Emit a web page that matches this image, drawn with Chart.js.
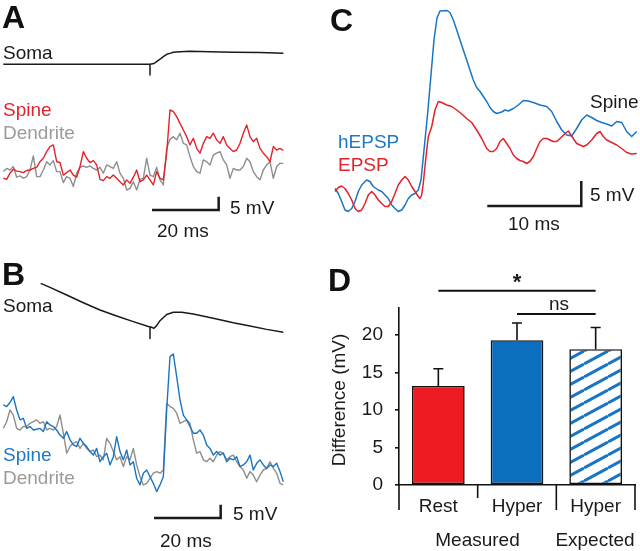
<!DOCTYPE html>
<html><head><meta charset="utf-8">
<script src="https://cdn.jsdelivr.net/npm/chart.js@4.4.1/dist/chart.umd.min.js"></script>
<style>
html,body{margin:0;padding:0;background:#fff;}
#page{position:relative;width:640px;height:551px;overflow:hidden;background:#fff;font-family:"Liberation Sans",Arial,Helvetica,sans-serif;}
canvas{position:absolute;}
.t{position:absolute;font-size:19px;line-height:19px;white-space:nowrap;color:#1a1a1a;}
.L{font-size:32px;line-height:32px;font-weight:bold;color:#111;}
.c{transform:translateX(-50%);}
</style></head>
<body><div id="page">
<canvas id="traces" width="640" height="551" style="left:0;top:0;width:640px;height:551px"></canvas>
<canvas id="bars" width="320" height="291" style="left:320px;top:260px;width:320px;height:291px"></canvas>

<div class="t L" style="left:2px;top:1px">A</div>
<div class="t" style="left:3px;top:42.5px">Soma</div>
<div class="t" style="left:3px;top:99.5px;color:#e3232b">Spine</div>
<div class="t" style="left:3px;top:122.5px;color:#9b9b9b">Dendrite</div>
<div class="t" style="left:230px;top:197.5px">5 mV</div>
<div class="t" style="left:157px;top:220.5px">20 ms</div>

<div class="t L" style="left:2px;top:258px">B</div>
<div class="t" style="left:3px;top:295.5px">Soma</div>
<div class="t" style="left:3px;top:444.5px;color:#1f77c6">Spine</div>
<div class="t" style="left:3px;top:467.5px;color:#9b9b9b">Dendrite</div>
<div class="t" style="left:233px;top:503.5px">5 mV</div>
<div class="t" style="left:160px;top:530.5px">20 ms</div>

<div class="t L" style="left:330px;top:4px">C</div>
<div class="t" style="left:590px;top:91.5px">Spine</div>
<div class="t" style="left:338px;top:131.5px;color:#1f77c6">hEPSP</div>
<div class="t" style="left:338px;top:154.5px;color:#e3232b">EPSP</div>
<div class="t" style="left:590px;top:184.5px">5 mV</div>
<div class="t" style="left:508px;top:213.5px">10 ms</div>

<div class="t L" style="left:328px;top:264px">D</div>
<div class="t c" style="left:517px;top:271px;font-size:22px;line-height:22px;font-weight:bold">*</div>
<div class="t c" style="left:559px;top:294px">ns</div>
<div class="t c" style="left:477.5px;top:529.5px">Measured</div>
<div class="t c" style="left:595px;top:529.5px">Expected</div>
<div class="t" style="left:338px;top:400px;transform:translate(-50%,-50%) rotate(-90deg)">Difference (mV)</div>
</div>
<script>
// ---------------- DATA ----------------
// Panel A / B: samples every 1 ms (mV)
const DT_MS = 1;
const A_SPINE = [4.4,4.0,6.3,7.8,7.1,6.9,6.5,7.3,7.5,8.1,
 8.5,10.6,11.9,14.4,16.3,16.9,10.6,10.3,5.6,6.5,
 7.5,5.6,4.8,8.8,14.4,11.9,10.3,11.0,9.4,4.0,
 3.5,5.0,4.4,5.6,4.4,3.1,1.9,3.8,2.5,4.8,
 7.5,3.1,3.8,5.6,3.8,1.9,6.9,4.4,3.8,13.8,
 30.0,29.4,27.5,25.0,22.5,20.0,16.9,19.4,15.6,13.8,
 17.5,20.0,19.4,21.3,18.8,17.5,20.0,16.9,15.6,14.4,
 15.0,17.5,21.3,24.4,20.0,18.1,19.4,15.6,13.8,12.5,
 10.6,16.3,15.0,15.6,14.8];
const A_DEND = [6.9,8.1,7.5,8.8,4.8,5.3,4.4,5.0,7.5,12.8,
 5.0,5.0,7.5,10.6,9.4,11.0,6.9,6.9,2.8,5.0,
 4.4,1.3,6.3,8.5,9.0,8.5,9.0,8.1,7.5,8.5,
 6.3,9.4,8.8,8.1,10.6,6.3,4.4,0.0,0.6,3.1,
 0.0,4.0,4.4,11.9,5.6,5.0,8.5,3.8,1.9,15.6,
 19.0,20.0,18.8,21.3,17.5,16.9,12.5,8.8,6.9,6.3,
 11.3,10.6,9.4,13.1,13.8,14.4,11.3,9.4,4.4,8.1,
 7.5,7.5,8.8,11.9,10.6,6.9,5.0,3.8,7.5,9.4,
 10.6,4.4,8.8,10.0,10.0];
const A_SOMA_T = [0,44,44,44,45.2,46,47,48,49,50,51,53,56,62,69,77,84];
const A_SOMA_V = [0,0,-4,0,0.3,1.0,1.9,2.9,3.75,4.1,4.5,4.75,4.9,4.75,4.5,4.4,4.1];

const B_SPINE = [31.9,31.3,32.8,35.0,30.0,26.3,26.9,23.1,23.8,22.5,
 22.8,23.1,21.9,25.6,24.4,23.8,22.5,20.6,19.4,21.9,
 18.8,16.9,16.3,19.4,17.5,16.3,14.4,13.1,15.6,10.6,
 12.5,13.8,9.4,12.5,20.0,14.4,11.3,15.0,9.4,10.6,
 4.4,1.9,6.3,7.5,5.0,2.5,-0.6,1.9,5.0,30.0,
 50.0,51.0,42.5,33.8,28.1,26.3,23.8,21.3,21.3,22.5,
 20.6,16.9,15.6,13.1,14.4,13.1,13.8,10.6,11.9,11.3,
 12.5,8.8,9.4,10.6,13.1,7.5,10.0,11.3,9.4,8.1,
 9.4,8.8,10.0,6.9,3.1];
const B_DEND = [23.1,25.6,30.0,28.1,23.1,22.5,23.8,23.8,25.0,25.6,
 26.3,25.0,25.6,22.5,23.1,22.5,23.8,28.1,21.3,13.8,
 16.3,17.5,18.1,15.6,17.5,15.6,14.4,15.0,12.5,13.1,
 11.3,19.4,17.5,14.4,11.3,12.5,8.8,12.5,11.3,15.6,
 9.4,5.0,1.9,2.5,4.4,6.3,6.9,6.3,7.5,32.5,
 31.3,30.6,28.8,25.0,25.6,26.3,25.0,18.8,13.8,14.4,
 11.3,10.6,11.9,10.6,13.1,14.4,13.8,11.3,12.5,13.1,
 10.6,8.8,7.5,4.4,6.9,5.6,3.1,5.6,7.5,8.1,
 10.6,8.1,6.3,2.5,1.9];
const B_SOMA_T = [11.2,14,19,24,29,34,39,43.5,44,44,44,45.2,46,47,49,51,53.5,57,64,69,74,79,84];
const B_SOMA_V = [16.25,14.75,11.9,9.0,6.25,4.0,1.9,0.1,0,-4.4,0,-0.6,0.4,2.25,4.6,5.4,5.4,4.75,2.9,1.5,0.25,-1.0,-2.1];

// Panel C (ms, mV)
const C_HEPSP_T = [0,0.35,0.71,1.06,1.41,1.78,2.13,2.48,2.84,3.37,3.72,4.07,4.61,4.97,5.32,5.67,6.03,6.38,6.73,7.10,
 7.45,7.80,8.16,8.51,8.86,9.15,9.47,9.89,10.21,10.53,10.85,11.17,11.91,12.23,12.59,12.95,13.30,13.65,14.01,
 14.36,14.71,15.07,15.43,15.78,16.14,16.49,16.84,17.20,17.73,18.09,18.44,18.97,19.50,20.03,20.56,21.10,21.81,22.52,23.05,
 23.59,24.12,24.65,25.18,25.71,26.24,26.78,27.31,27.84,28.37,28.90,29.44,29.97,30.50,31.03,31.56,32.10];
const C_HEPSP_V = [0.3,-0.7,-2.3,-4.0,-4.3,-3.7,-2.3,-0.3,1.0,2.0,1.7,0.7,0.0,-0.3,-1.0,-1.7,-3.0,-3.7,-4.3,-4.0,
 -3.0,-1.7,-1.0,-0.7,0.0,2.0,8.0,16.0,23.0,30.0,34.4,35.8,35.9,35.5,34.0,32.0,30.0,28.0,26.0,
 24.0,22.0,20.5,19.7,18.7,17.7,16.5,15.7,15.3,15.6,16.0,15.8,16.3,17.0,17.9,17.8,17.5,17.0,16.7,15.7,
 13.7,12.0,11.0,10.8,12.3,14.0,15.0,14.5,13.9,13.5,13.2,12.8,13.7,13.5,11.7,10.7,11.7];
const C_EPSP_T = [0,0.35,0.71,1.06,1.41,1.78,2.13,2.48,2.84,3.19,3.54,3.90,4.26,4.61,4.97,5.32,5.67,6.03,6.38,6.73,
 7.10,7.45,7.80,8.16,8.51,8.86,9.04,9.22,9.39,9.57,9.76,9.93,10.29,10.64,10.99,11.35,11.88,12.41,12.95,13.48,
 14.01,14.54,15.07,15.61,16.14,16.49,16.84,17.20,17.55,17.90,18.27,18.62,18.97,19.33,19.68,20.03,20.39,20.74,21.10,21.46,
 21.81,22.16,22.52,22.87,23.22,23.59,23.94,24.47,24.82,25.35,25.71,26.06,26.41,26.78,27.31,27.84,28.19,28.54,28.90,29.44,
 29.97,30.50,31.03,31.56,32.10];
const C_EPSP_V = [-0.3,0.5,0.8,0.3,-0.7,-2.0,-3.7,-4.3,-4.0,-2.7,-1.0,-0.3,-1.0,-2.0,-2.7,-3.3,-3.3,-2.3,-0.7,1.0,
 2.0,2.7,2.0,0.7,-0.3,-1.3,-1.7,-1.0,1.3,4.7,8.0,10.7,12.7,16.0,17.7,17.5,17.0,16.7,16.0,15.2,
 14.3,13.5,12.0,10.3,8.3,7.7,7.7,8.3,9.7,10.3,9.3,8.3,7.0,6.3,5.9,5.7,5.3,5.7,6.7,8.3,
 9.7,10.3,10.3,10.0,9.7,9.7,10.3,11.3,11.8,10.3,9.3,9.0,8.7,9.0,10.0,11.3,11.7,10.7,10.0,9.5,
 9.0,8.3,7.5,7.2,7.3];

// Scale bars (ms, mV)
const SCALE_A = {t0:44.6, v0:-7.5, dt:20, dv:5};
const SCALE_B = {t0:45.2, v0:-10.5, dt:20, dv:5};
const SCALE_C = {t0:16.2, v0:-3.2, dt:10, dv:5};

// Panel D
const CATEGORIES = ['Rest','Hyper','Hyper'];
const GROUPS = [{label:'Measured',from:0,to:1},{label:'Expected',from:2,to:2}];
const MEANS = [13.2, 19.3, 18.1];
const SEMS = [2.3, 2.3, 2.9];
const Y_TICKS = [0,5,10,15,20];
const Y_MAX = 23.6;
const SIG = [{a:0,b:2,level:25.9},{a:1,b:2,level:22.8}];

// ---------------- STYLE / LAYOUT ----------------
const RED='#e4222a', BLUE='#1a74c4', GRAY='#8e8e8e', BLACK='#1a1a1a';
const W=640, H=551;
function xr(p0,k){return {min:-p0/k, max:(W-p0)/k};}
function yr(p0,k){return {min:(p0-H)/k, max:p0/k};}
const AXES = {
  xA:{axis:'x',...xr(10/3,10/3)}, xC:{axis:'x',...xr(335,9.4)},
  yAs:{axis:'y',...yr(64.3,8/3)}, yA:{axis:'y',...yr(190,8/3)},
  yBs:{axis:'y',...yr(326.7,8/3)}, yB:{axis:'y',...yr(490,8/3)},
  yC:{axis:'y',...yr(190,5)}
};
const scales = {};
for (const id in AXES){ scales[id] = Object.assign({type:'linear',display:false}, AXES[id]); }

const pts = (ts,vs)=>ts.map((t,i)=>({x:t,y:vs[i]}));
const idx = arr=>arr.map((_,i)=>i*DT_MS);
const bar = s=>[{x:s.t0,y:s.v0},{x:s.t0+s.dt,y:s.v0},{x:s.t0+s.dt,y:s.v0+s.dv}];
function ds(data,x,y,color,w){return {data,xAxisID:x,yAxisID:y,borderColor:color,borderWidth:w||1.4,pointRadius:0,tension:0,fill:false,borderJoinStyle:'round'};}

new Chart(document.getElementById('traces'),{
  type:'line',
  data:{datasets:[
    ds(pts(A_SOMA_T,A_SOMA_V),'xA','yAs',BLACK,1.5),
    ds(pts(idx(A_SPINE),A_SPINE),'xA','yA',RED),
    ds(pts(idx(A_DEND),A_DEND),'xA','yA',GRAY),
    Object.assign(ds(bar(SCALE_A),'xA','yA',BLACK,2.5),{borderJoinStyle:'miter'}),
    ds(pts(B_SOMA_T,B_SOMA_V),'xA','yBs',BLACK,1.5),
    ds(pts(idx(B_SPINE),B_SPINE),'xA','yB',BLUE),
    ds(pts(idx(B_DEND),B_DEND),'xA','yB',GRAY),
    Object.assign(ds(bar(SCALE_B),'xA','yB',BLACK,2.5),{borderJoinStyle:'miter'}),
    ds(pts(C_EPSP_T,C_EPSP_V),'xC','yC',RED,1.5),
    ds(pts(C_HEPSP_T,C_HEPSP_V),'xC','yC',BLUE,1.5),
    Object.assign(ds(bar(SCALE_C),'xC','yC',BLACK,2.5),{borderJoinStyle:'miter'})
  ]},
  options:{responsive:false,animation:false,events:[],layout:{padding:0},
    plugins:{legend:{display:false},tooltip:{enabled:false}},
    scales}
});

const decor = {
  id:'decor',
  afterDraw(chart){
    const ctx=chart.ctx, ys=chart.scales.y, meta=chart.getDatasetMeta(0), ca=chart.chartArea;
    ctx.save(); ctx.strokeStyle='#111'; ctx.lineCap='butt';
    // error bars
    ctx.lineWidth=1.6;
    meta.data.forEach((el,i)=>{
      const yt=ys.getPixelForValue(MEANS[i]+SEMS[i]);
      ctx.beginPath(); ctx.moveTo(el.x,el.y); ctx.lineTo(el.x,yt);
      ctx.moveTo(el.x-5,yt); ctx.lineTo(el.x+5,yt); ctx.stroke();
    });
    // category separators below axis
    const n=CATEGORIES.length, cw=(ca.right-ca.left)/n;
    const groupEdges=new Set(); GROUPS.forEach(g=>{groupEdges.add(g.from);groupEdges.add(g.to+1);});
    ctx.lineWidth=1.6;
    for(let i=0;i<=n;i++){
      const x=ca.left+i*cw, len=groupEdges.has(i)?25:13;
      ctx.beginPath(); ctx.moveTo(x,ca.bottom); ctx.lineTo(x,ca.bottom+len); ctx.stroke();
    }
    // significance lines
    ctx.lineWidth=2;
    SIG.forEach(s=>{
      const y=ys.getPixelForValue(s.level);
      ctx.beginPath(); ctx.moveTo(meta.data[s.a].x,y); ctx.lineTo(meta.data[s.b].x,y); ctx.stroke();
    });
    ctx.restore();
  }
};

const FONT={family:'"Liberation Sans", Arial, sans-serif',size:19};
const pat=(function(){const c=document.createElement('canvas');c.width=24;c.height=13;const g=c.getContext('2d');
  g.fillStyle='#fff';g.fillRect(0,0,24,13);g.strokeStyle=BLUE;g.lineWidth=3;
  for(let n=0;n<=2;n++){g.beginPath();g.moveTo(0,n*13);g.lineTo(24,n*13-13);g.stroke();}
  return g.createPattern(c,'repeat');})();

new Chart(document.getElementById('bars'),{
  type:'bar',
  data:{labels:CATEGORIES,datasets:[{data:MEANS,backgroundColor:['#ed1c24','#0b6ebf',pat],
    borderColor:'#111',borderWidth:1.6,borderSkipped:false,barPercentage:0.67,categoryPercentage:1}]},
  options:{responsive:false,animation:false,events:[],
    layout:{padding:{left:0,top:48,right:5,bottom:0}},
    plugins:{legend:{display:false},tooltip:{enabled:false}},
    scales:{
      x:{offset:true,grid:{display:false,drawTicks:false},border:{display:true,color:'#111',width:1.6},
         ticks:{font:FONT,color:'#1a1a1a',padding:10,autoSkip:false,maxRotation:0},
         afterFit(s){s.height=66;}},
      y:{min:0,max:Y_MAX,grid:{drawOnChartArea:false,drawTicks:true,tickLength:4,color:'#111',lineWidth:1.6},
         border:{display:true,color:'#111',width:1.6},
         ticks:{font:FONT,color:'#1a1a1a',padding:12},
         afterBuildTicks(s){s.ticks=Y_TICKS.map(v=>({value:v}));},
         afterFit(s){s.width=79;}}
    }},
  plugins:[decor]
});
</script>
</body></html>
